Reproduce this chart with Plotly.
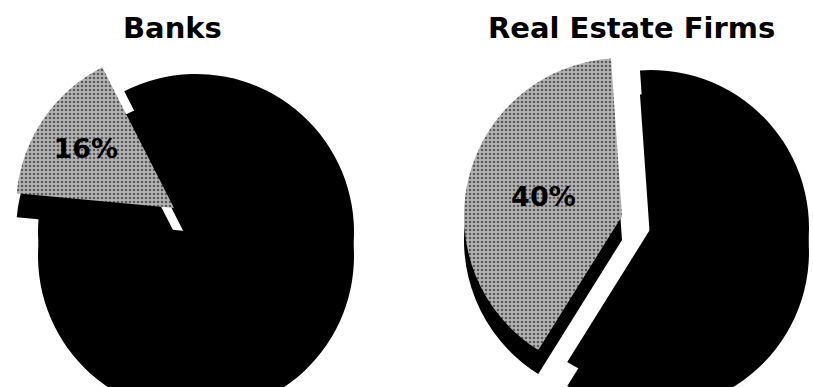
import plotly.graph_objects as go

# Share of each group (percent): the remainder and the highlighted part
slice_labels = ["Other", "Real estate"]
banks_values = [84, 16]
firms_values = [60, 40]
chart_titles = ["Banks", "Real Estate Firms"]

# Canvas is a little larger than the visible window so the pies run off the edges
FIG_W, FIG_H = 840, 460
RADIUS = 158          # pie radius in px
DEPTH = 24            # drop of the dark base that gives each pie its thickness

# Each slice gets its own centre so the highlighted slice can be lifted out of the pie
pies = [
    dict(values=banks_values, rotation=-27, title_x=172,
         centers=[(196, 232), (174, 208)]),
    dict(values=firms_values, rotation=-4, title_x=631,
         centers=[(651, 228), (622, 216)]),
]

SLICE_COLORS = ["#000000", "#aaaaaa"]
CLEAR = "rgba(0,0,0,0)"


def clamp(v):
    return max(0.0, min(1.0, v))


def domain_for(cx, cy):
    side = 2 * RADIUS
    return dict(
        x=[clamp((cx - side / 2) / FIG_W), clamp((cx + side / 2) / FIG_W)],
        y=[clamp(1 - (cy + side / 2) / FIG_H), clamp(1 - (cy - side / 2) / FIG_H)],
    )


def slice_pie(p, idx, dy, **kw):
    cx, cy = p["centers"][idx]
    return go.Pie(
        labels=slice_labels, values=p["values"], sort=False, direction="clockwise",
        rotation=p["rotation"], domain=domain_for(cx, cy + dy),
        hoverinfo="skip", showlegend=False, **kw,
    )


fig = go.Figure()

# dark base under every slice
for p in pies:
    for idx in range(len(slice_labels)):
        colors = [CLEAR] * len(slice_labels)
        colors[idx] = "#000000"
        fig.add_trace(slice_pie(
            p, idx, DEPTH,
            marker=dict(colors=colors, line=dict(width=0)),
            textinfo="none",
        ))

# top faces; the highlighted slice carries its percentage
for p in pies:
    for idx in range(len(slice_labels)):
        colors = [CLEAR] * len(slice_labels)
        colors[idx] = SLICE_COLORS[idx]
        shapes = [""] * len(slice_labels)
        templates = [""] * len(slice_labels)
        if idx == 1:
            shapes[idx] = "."
            templates[idx] = "<b>%{percent}</b>"
        fig.add_trace(slice_pie(
            p, idx, 0,
            marker=dict(
                colors=colors, line=dict(width=0),
                pattern=dict(shape=shapes, fgcolor="#5a5a5a", bgcolor="#b4b4b4",
                             size=4, solidity=0.35, fillmode="replace"),
            ),
            texttemplate=templates,
            textposition="inside", insidetextorientation="horizontal",
            textfont=dict(family="DejaVu Sans", size=27, color="#000000"),
        ))

for p, title in zip(pies, chart_titles):
    fig.add_annotation(
        text=f"<b>{title}</b>", xref="paper", yref="paper",
        x=p["title_x"] / FIG_W, y=1 - 28 / FIG_H, xanchor="center", yanchor="middle",
        showarrow=False, font=dict(family="DejaVu Sans", size=29, color="#000000"),
    )

fig.update_layout(
    width=FIG_W, height=FIG_H,
    margin=dict(l=0, r=0, t=0, b=0),
    paper_bgcolor="#ffffff", plot_bgcolor="#ffffff",
    showlegend=False,
)

fig.write_html(
    "out.html",
    config={"displayModeBar": False},
    post_script=(
        "document.documentElement.style.overflow='hidden';"
        "document.body.style.overflow='hidden';"
        "document.body.style.margin='0';"
    ),
)
